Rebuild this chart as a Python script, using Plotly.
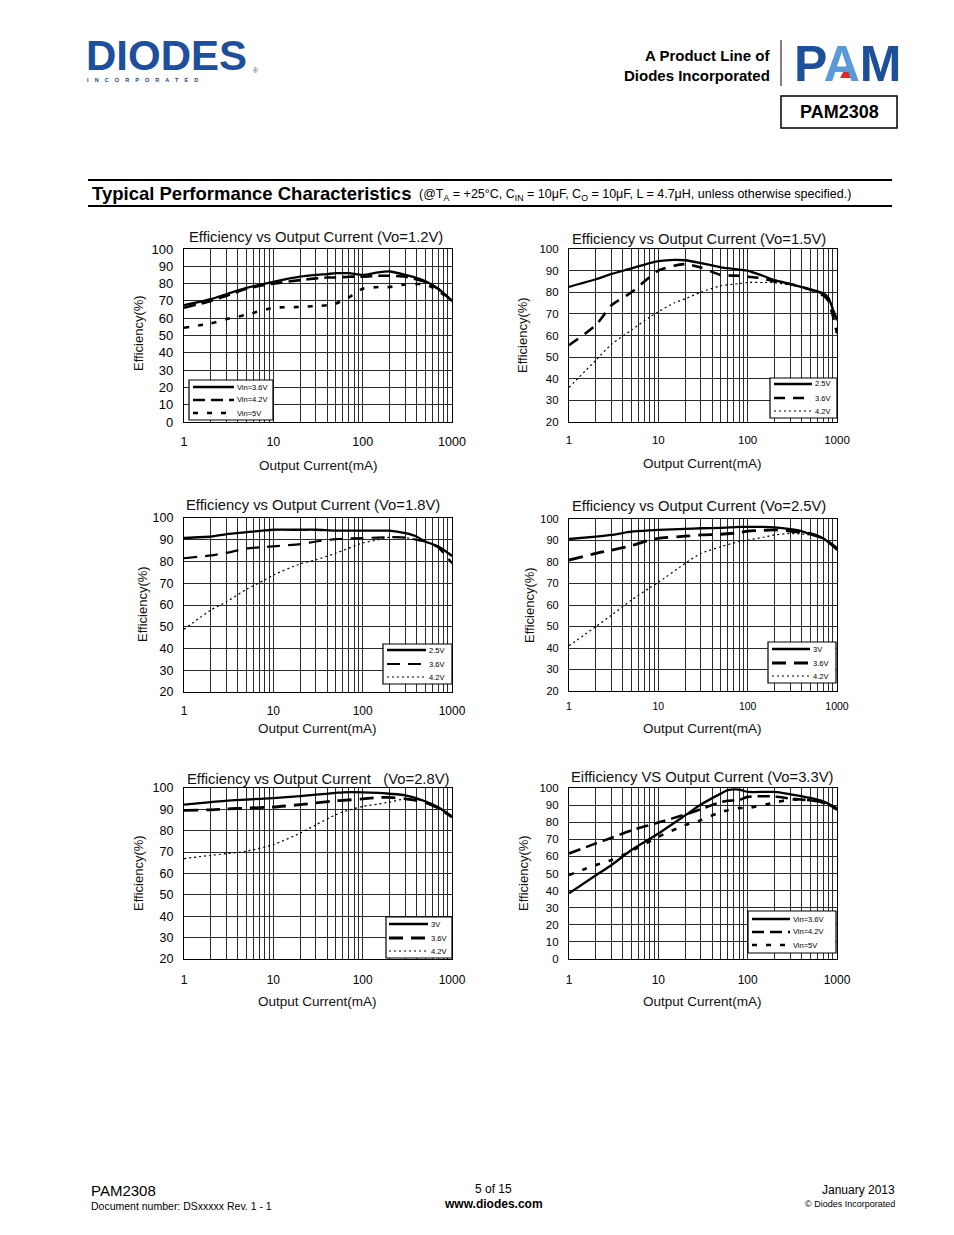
import plotly.graph_objects as go

W, H = 954, 1235          # page size (browser window)
OFF = 8                   # default body margin of the html page
FW, FH = W - 2 * OFF, H - 2 * OFF
FONT = "Liberation Sans, Arial, sans-serif"

# ---------------- data (efficiency %) ----------------
# Vo = 1.2V
cur_12 = [1, 2, 3, 5, 10, 20, 30, 40, 50, 70, 100, 150, 200, 300, 500, 700, 1000]
eff_12_vin36 = [67.5, 71, 74, 77.5, 81, 84, 85, 85.5, 86, 86, 85, 86.5, 87, 85, 81.5, 77, 70]
eff_12_vin42 = [66, 70, 73, 77, 80, 82, 83, 83.5, 83.5, 84, 84, 84.5, 84.5, 84, 81, 77, 70]
eff_12_vin50 = [54.5, 57, 59.5, 62, 66, 66.5, 67, 67.5, 68.5, 72, 77, 78, 78, 79.5, 79.5, 76, 69.5]

# Vo = 1.5V
cur_15 = [1, 2, 3, 5, 8, 10, 15, 20, 30, 50, 80, 100, 150, 200, 300, 500, 700, 800, 900, 1000]
eff_15_vin25 = [82.5, 86, 88.5, 91, 93.5, 94.4, 95, 94.8, 93.5, 91.5, 90.5, 90, 87.5, 85.6, 83.8, 81.3, 79.5, 77.5, 72, 67]
eff_15_vin36 = [55.5, 64.8, 74, 80, 87, 90, 92.3, 93, 91.4, 88, 87.6, 87.2, 86.4, 84.9, 83.8, 81.3, 78.5, 76, 69, 61]
eff_15_vin42 = [36, 48.6, 56, 62.5, 68.5, 71, 75, 77, 80, 83, 84, 84.5, 84.5, 84.5, 83.3, 81.5, 78.7, 77, 73, 68]

# Vo = 1.8V
cur_18 = [1, 2, 3, 5, 8, 10, 20, 30, 50, 100, 150, 200, 300, 400, 500, 700, 1000]
eff_18_vin25 = [90.8, 91.5, 92.6, 93.5, 94.3, 94.6, 94.6, 94.6, 94.2, 94.2, 94.2, 94.2, 93, 91.5, 89.2, 87, 82.5]
eff_18_vin36 = [81.5, 82.8, 84, 86, 86.7, 87, 88, 89.2, 90.3, 90.8, 91, 91.2, 91, 90, 89.2, 86.5, 79.2]
eff_18_vin42 = [48.8, 57.7, 61.5, 67.2, 71.5, 73.8, 78.9, 80.8, 83.8, 88.5, 90, 91.2, 91, 90, 89, 87, 83]

# Vo = 2.5V
cur_25 = [1, 2, 3, 5, 8, 10, 20, 30, 50, 80, 100, 150, 200, 300, 400, 500, 700, 1000]
eff_25_vin30 = [90.7, 91.8, 92.6, 94.1, 94.7, 94.9, 95.4, 95.7, 95.9, 96.3, 96.3, 96.3, 96.1, 95.3, 94.4, 92.9, 91, 85.6]
eff_25_vin36 = [80.9, 84, 85.5, 87.6, 90.2, 91, 92, 92.6, 92.9, 93.6, 94.4, 94.7, 94.9, 94.4, 93.8, 93.3, 91, 86.4]
eff_25_vin42 = [41, 50, 55.3, 62.3, 68, 70.5, 79.4, 84, 87.1, 89.5, 90.2, 91.5, 92.6, 93.3, 93, 92.6, 91, 85.9]

# Vo = 2.8V
cur_28 = [1, 2, 3, 5, 10, 20, 30, 50, 60, 100, 150, 200, 300, 500, 700, 1000]
eff_28_vin30 = [92.2, 93.4, 94.1, 94.6, 95.3, 96.2, 96.9, 97.7, 98, 98, 97.7, 97.3, 96.6, 93.8, 91, 86.7]
eff_28_vin36 = [89.5, 89.8, 90.2, 90.6, 91.1, 92.2, 93, 94, 94.2, 94.9, 95.6, 95.6, 94.9, 93.3, 90.6, 86.4]
eff_28_vin42 = [67, 68.5, 69.3, 70.4, 73.5, 78.9, 82.8, 87.5, 88.8, 91.4, 92.5, 93.4, 94.9, 93.8, 91, 86.7]

# Vo = 3.3V
cur_33 = [1, 2, 3, 5, 10, 20, 30, 50, 60, 80, 100, 200, 300, 500, 700, 1000]
eff_33_vin36 = [38.4, 49, 55, 63.7, 73.4, 84, 90.3, 96.7, 98.7, 99, 97.7, 97.7, 96.3, 94.2, 92.2, 88]
eff_33_vin42 = [61.7, 67.6, 70.9, 75.3, 79.8, 84.5, 87.6, 91.8, 92.5, 93, 94.8, 95.1, 93.8, 92.8, 91.5, 88]
eff_33_vin50 = [49.1, 55, 57.9, 63.1, 71.5, 78.3, 81.2, 86, 87, 88.3, 88.3, 91.5, 93.2, 92.8, 91.5, 87.4]

x_tick_labels = ["1", "10", "100", "1000"]

# ---------------- helpers (page pixels -> paper fraction) ----------------
def PX(x):
    return (x - OFF) / FW

def PY(y):
    return 1 - (y - OFF) / FH

SOLID = dict(dash="solid", width=2.3)
DASH_L = dict(dash="12px,6px", width=2.6)
DASH_S = dict(dash="5px,9px", width=2.6)
DOT = dict(dash="2px,3px", width=1.2)

panels = [
    dict(title="Efficiency vs Output Current (Vo=1.2V)", tpos=(316, 237),
         box=(184, 249, 452, 422), yr=(0, 100), yfs=13, xfs=12.5, xlab_y=441,
         xt=(318, 465), yt=(138, 333),
         x=cur_12,
         series=[("Vin=3.6V", eff_12_vin36, SOLID), ("Vin=4.2V", eff_12_vin42, DASH_L),
                 ("Vin=5V", eff_12_vin50, DASH_S)],
         leg=dict(rect=(189, 380, 273, 420), rows=(387, 400, 413), lx=(193, 234), tx=235)),
    dict(title="Efficiency vs Output Current (Vo=1.5V)", tpos=(699, 239),
         box=(569, 249, 837, 422), yr=(20, 100), yfs=11.5, xfs=11.5, xlab_y=440,
         xt=(702, 463), yt=(523, 335),
         x=cur_15,
         series=[("2.5V", eff_15_vin25, SOLID), ("3.6V", eff_15_vin36, dict(dash="11px,8px", width=2.6)),
                 ("4.2V", eff_15_vin42, DOT)],
         leg=dict(rect=(770, 378, 837, 418), rows=(384, 398, 411), lx=(774, 812), tx=813)),
    dict(title="Efficiency vs Output Current (Vo=1.8V)", tpos=(313, 505),
         box=(184, 518, 452, 692), yr=(20, 100), yfs=12.5, xfs=12, xlab_y=710,
         xt=(317, 728), yt=(142, 604),
         x=cur_18,
         series=[("2.5V", eff_18_vin25, SOLID), ("3.6V", eff_18_vin36, dict(dash="13px,8px", width=2.2)),
                 ("4.2V", eff_18_vin42, DOT)],
         leg=dict(rect=(383, 644, 452, 684), rows=(650, 664, 677), lx=(387, 426), tx=427)),
    dict(title="Efficiency vs Output Current (Vo=2.5V)", tpos=(699, 506),
         box=(569, 519, 837, 691), yr=(20, 100), yfs=11, xfs=10.5, xlab_y=707,
         xt=(702, 728), yt=(529, 605),
         x=cur_25,
         series=[("3V", eff_25_vin30, SOLID), ("3.6V", eff_25_vin36, dict(dash="14px,8px", width=2.8)),
                 ("4.2V", eff_25_vin42, DOT)],
         leg=dict(rect=(768, 642, 836, 683), rows=(649, 663, 676), lx=(772, 810), tx=811)),
    dict(title="Efficiency vs Output Current   (Vo=2.8V)", tpos=(318, 779),
         box=(184, 788, 452, 959), yr=(20, 100), yfs=12.5, xfs=12, xlab_y=979,
         xt=(317, 1001), yt=(138, 873),
         x=cur_28,
         series=[("3V", eff_28_vin30, SOLID), ("3.6V", eff_28_vin36, dict(dash="14px,8px", width=2.8)),
                 ("4.2V", eff_28_vin42, DOT)],
         leg=dict(rect=(386, 917, 452, 958), rows=(924, 938, 951), lx=(389, 428), tx=429)),
    dict(title="Eifficiency VS Output Current (Vo=3.3V)", tpos=(702, 777),
         box=(569, 788, 837, 959), yr=(0, 100), yfs=11.5, xfs=12, xlab_y=979,
         xt=(702, 1001), yt=(523, 873),
         x=cur_33,
         series=[("Vin=3.6V", eff_33_vin36, SOLID), ("Vin=4.2V", eff_33_vin42, DASH_L),
                 ("Vin=5V", eff_33_vin50, DASH_S)],
         leg=dict(rect=(748, 911, 836, 953), rows=(919, 932, 945), lx=(752, 790), tx=791)),
]

fig = go.Figure()
annotations = []
shapes = []
layout_axes = {}

log_ticks = [d * 10 ** k for k in range(3) for d in range(1, 10)] + [1000]
log_text = [x_tick_labels[[1, 10, 100, 1000].index(v)] if v in (1, 10, 100, 1000) else "" for v in log_ticks]

for i, p in enumerate(panels, start=1):
    xa = "x" if i == 1 else f"x{i}"
    ya = "y" if i == 1 else f"y{i}"
    x0, y0, x1, y1 = p["box"]
    for name, vals, style in p["series"]:
        fig.add_trace(go.Scatter(
            x=p["x"], y=vals, name=name, mode="lines", xaxis=xa, yaxis=ya,
            line=dict(color="black", width=style["width"], dash=style["dash"],
                      shape="spline", smoothing=0.6),
            showlegend=False, hoverinfo="skip"))
    lo, hi = p["yr"]
    yt = list(range(lo, hi + 1, 10))
    xlab_len = p["xlab_y"] - y1 - p["xfs"] * 0.5 - 5
    layout_axes["xaxis" if i == 1 else f"xaxis{i}"] = dict(
        type="log", range=[0, 3], domain=[PX(x0), PX(x1)], anchor=ya, automargin=False,
        tickvals=log_ticks, ticktext=log_text, showgrid=True,
        gridcolor="#2b2b2b", gridwidth=1, zeroline=False,
        showline=True, mirror=True, linecolor="black", linewidth=1.2,
        ticks="outside", ticklen=max(xlab_len, 0), tickcolor="rgba(0,0,0,0)",
        tickfont=dict(family=FONT, size=p["xfs"], color="black"), tickangle=0)
    layout_axes["yaxis" if i == 1 else f"yaxis{i}"] = dict(
        range=[lo, hi], domain=[PY(y1), PY(y0)], anchor=xa, automargin=False,
        tickvals=yt, ticktext=[str(v) for v in yt], showgrid=True,
        gridcolor="#2b2b2b", gridwidth=1, zeroline=False,
        showline=True, mirror=True, linecolor="black", linewidth=1.2,
        ticks="outside", ticklen=7, tickcolor="rgba(0,0,0,0)",
        tickfont=dict(family=FONT, size=p["yfs"], color="black"))
    annotations.append(dict(text=p["title"], x=PX(p["tpos"][0]), y=PY(p["tpos"][1]),
                            xanchor="center", yanchor="middle",
                            font=dict(family=FONT, size=14.8, color="#111")))
    annotations.append(dict(text="Output Current(mA)", x=PX(p["xt"][0]), y=PY(p["xt"][1]),
                            xanchor="center", yanchor="middle",
                            font=dict(family=FONT, size=13.5, color="#111")))
    annotations.append(dict(text="Efficiency(%)", x=PX(p["yt"][0]), y=PY(p["yt"][1]),
                            textangle=-90, xanchor="center", yanchor="middle",
                            font=dict(family=FONT, size=13, color="#111")))
    lg = p["leg"]
    rx0, ry0, rx1, ry1 = lg["rect"]
    shapes.append(dict(type="rect", xref="paper", yref="paper",
                       x0=PX(rx0), x1=PX(rx1), y0=PY(ry1), y1=PY(ry0),
                       line=dict(color="black", width=1.2), fillcolor="white", layer="above"))
    for (name, vals, style), ry in zip(p["series"], lg["rows"]):
        shapes.append(dict(type="line", xref="paper", yref="paper",
                           x0=PX(lg["lx"][0]), x1=PX(lg["lx"][1]), y0=PY(ry), y1=PY(ry),
                           line=dict(color="black", width=style["width"], dash=style["dash"]),
                           layer="above"))
        annotations.append(dict(text=name, x=PX(lg["tx"]), y=PY(ry),
                                xanchor="left", yanchor="middle",
                                font=dict(family=FONT, size=7.5, color="black")))

# ---------------- page header & footer ----------------
annotations += [
    dict(text="<b>DIODES</b>", x=PX(84), y=PY(55), xanchor="left", yanchor="middle",
         font=dict(family="Liberation Sans, Arial", size=42, color="#1d4f9a")),
    dict(text="<b>I    N    C    O    R    P    O    R    A    T    E    D</b>", x=PX(85), y=PY(80.5),
         xanchor="left", yanchor="middle", font=dict(family=FONT, size=5.5, color="#1d3f7a")),
    dict(text="®", x=PX(251), y=PY(70), xanchor="left", yanchor="middle",
         font=dict(family=FONT, size=6.5, color="#1d4f9a")),
    dict(text="<b>A Product Line of</b>", x=PX(772), y=PY(55), xanchor="right", yanchor="middle",
         font=dict(family=FONT, size=15, color="black")),
    dict(text="<b>Diodes Incorporated</b>", x=PX(772), y=PY(75), xanchor="right", yanchor="middle",
         font=dict(family=FONT, size=15, color="black")),
    dict(text="<b><span style='color:#1d4f9a'>P</span><span style='color:#5a9ad8'>A</span>"
              "<span style='color:#1d4f9a'>M</span></b>", x=PX(847), y=PY(64),
         xanchor="center", yanchor="middle", font=dict(family=FONT, size=50, color="#1d4f9a")),
    dict(text="<b>PAM2308</b>", x=PX(839), y=PY(112), xanchor="center", yanchor="middle",
         font=dict(family=FONT, size=18, color="black")),
    dict(text="<b>Typical Performance Characteristics</b>", x=PX(90), y=PY(193), xanchor="left",
         yanchor="middle", font=dict(family=FONT, size=18.5, color="black")),
    dict(text="(@T<sub>A</sub> = +25°C, C<sub>IN</sub> = 10μF, C<sub>O</sub> = 10μF, L = 4.7μH, "
              "unless otherwise specified.)", x=PX(417), y=PY(195), xanchor="left",
         yanchor="middle", font=dict(family=FONT, size=12.5, color="black")),
    dict(text="PAM2308", x=PX(89), y=PY(1190), xanchor="left", yanchor="middle",
         font=dict(family=FONT, size=15, color="black")),
    dict(text="Document number: DSxxxxx Rev. 1 - 1", x=PX(89), y=PY(1206), xanchor="left",
         yanchor="middle", font=dict(family=FONT, size=10.5, color="black")),
    dict(text="5 of 15", x=PX(494), y=PY(1189), xanchor="center", yanchor="middle",
         font=dict(family=FONT, size=12, color="black")),
    dict(text="<b>www.diodes.com</b>", x=PX(494), y=PY(1204), xanchor="center", yanchor="middle",
         font=dict(family=FONT, size=12, color="black")),
    dict(text="January 2013", x=PX(897), y=PY(1190), xanchor="right", yanchor="middle",
         font=dict(family=FONT, size=12, color="black")),
    dict(text="© Diodes Incorporated", x=PX(897), y=PY(1204), xanchor="right", yanchor="middle",
         font=dict(family=FONT, size=9, color="black")),
]
for a in annotations:
    a.setdefault("xref", "paper")
    a.setdefault("yref", "paper")
    a.setdefault("showarrow", False)

shapes += [
    dict(type="line", xref="paper", yref="paper", x0=PX(781), x1=PX(781), y0=PY(40), y1=PY(86),
         line=dict(color="black", width=1)),
    dict(type="path", xref="paper", yref="paper",
         path=f"M {PX(840)} {PY(78)} L {PX(855)} {PY(78)} L {PX(847.5)} {PY(64)} Z",
         fillcolor="#e0262b", line=dict(width=0)),
    dict(type="rect", xref="paper", yref="paper", x0=PX(781), x1=PX(897), y0=PY(128), y1=PY(96),
         line=dict(color="black", width=1.5)),
    dict(type="line", xref="paper", yref="paper", x0=PX(88), x1=PX(892), y0=PY(180), y1=PY(180),
         line=dict(color="black", width=2)),
    dict(type="line", xref="paper", yref="paper", x0=PX(88), x1=PX(892), y0=PY(206), y1=PY(206),
         line=dict(color="black", width=2)),
]

fig.update_layout(
    template="none",
    width=FW, height=FH, margin=dict(l=0, r=0, t=0, b=0, pad=0, autoexpand=False), autosize=False,
    paper_bgcolor="white", plot_bgcolor="white",
    annotations=annotations, shapes=shapes, showlegend=False,
    font=dict(family=FONT, color="black"),
    **layout_axes)

fig.write_html("out.html", config={"displayModeBar": False, "responsive": False})
